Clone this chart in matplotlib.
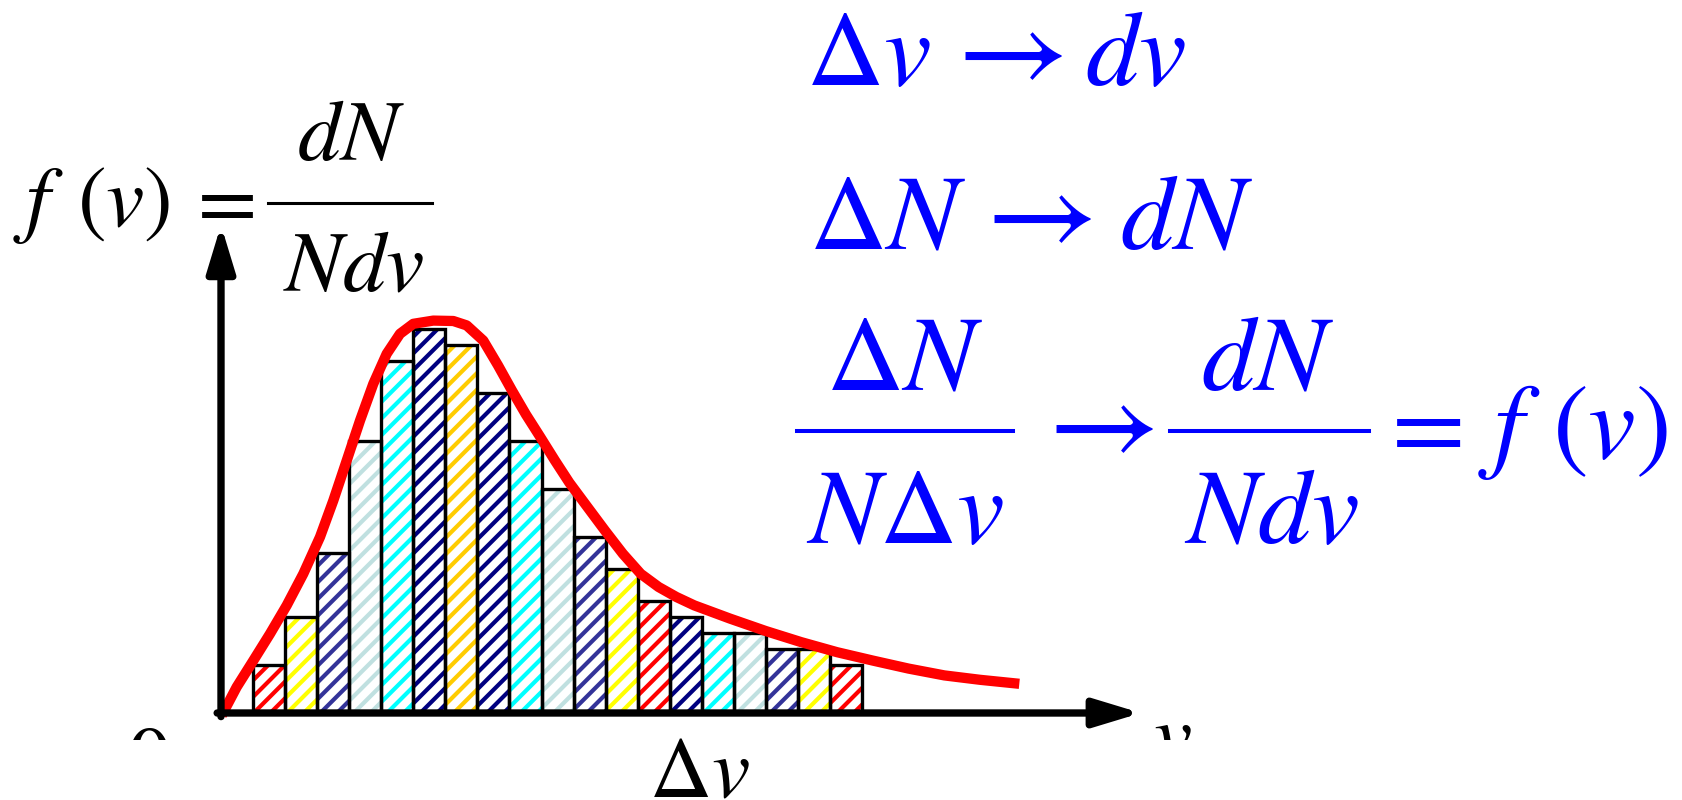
import matplotlib
matplotlib.use("Agg")
import matplotlib.pyplot as plt
from matplotlib.patches import Rectangle
from matplotlib.lines import Line2D

plt.rcParams['mathtext.fontset'] = 'stix'
plt.rcParams['font.family'] = ['STIXGeneral', 'DejaVu Serif']
plt.rcParams['hatch.linewidth'] = 3.0

# histogram of dN/(N dv): bins of width dv = 1, from v = 1 to v = 20
bin_left = list(range(1, 20))
bar_height = [0.121, 0.240, 0.401, 0.679, 0.879, 0.959, 0.921, 0.801, 0.679,
              0.559, 0.440, 0.359, 0.279, 0.240, 0.201, 0.201, 0.159, 0.159, 0.119]
bar_color = ['#ff0000', '#ffff00', '#333399', '#c0e0e0', '#00ffff', '#000080',
             '#ffcc00', '#000080', '#00ffff', '#c0e0e0', '#333399', '#ffff00',
             '#ff0000', '#000080', '#00ffff', '#c0e0e0', '#333399', '#ffff00',
             '#ff0000']

# smooth distribution f(v)
curve_v = [0.022, 0.490, 1.008, 1.529, 2.050, 2.568, 3.089, 3.504, 3.922, 4.337,
           4.752, 5.170, 5.585, 6.000, 6.624, 7.248, 7.666, 8.184, 8.643, 9.080,
           9.516, 9.953, 10.421, 10.867, 11.423, 11.981, 12.540, 13.095, 13.654,
           14.209, 14.768, 15.881, 16.995, 18.109, 19.223, 20.340, 21.454,
           22.568, 23.682, 24.908]
curve_f = [-0.006, 0.065, 0.131, 0.198, 0.269, 0.348, 0.440, 0.531, 0.631, 0.731,
           0.823, 0.898, 0.948, 0.973, 0.981, 0.980, 0.969, 0.931, 0.869, 0.806,
           0.746, 0.691, 0.631, 0.576, 0.516, 0.456, 0.398, 0.348, 0.315,
           0.290, 0.269, 0.236, 0.205, 0.177, 0.152, 0.131, 0.111,
           0.094, 0.083, 0.073]

V_END = 28.7
F_END = 1.22

W, H = 1682, 800
fig = plt.figure(figsize=(W / 100, H / 100), dpi=100)


def fx(x):
    return x / W


def fy(y):
    return 1 - y / H


ax = fig.add_axes([fx(221), 87 / H, 30 * 32.05 / W, 500 / H])
ax.set_xlim(0, 30)
ax.set_ylim(0, 1.25)
ax.axis('off')

# hatched bars: coloured stripes first, black outline on top
ax.bar(bin_left, bar_height, width=1, align='edge', color='white',
       edgecolor=bar_color, hatch='//', linewidth=0, zorder=2)
ax.bar(bin_left, bar_height, width=1, align='edge', fill=False,
       edgecolor='black', linewidth=2.4, zorder=3)

ax.plot(curve_v, curve_f, color='#ff0000', lw=7.4, solid_capstyle='butt',
        solid_joinstyle='round', zorder=4, clip_on=False)

# axes with arrow heads
arrow = dict(arrowstyle='-|>,head_length=2.8,head_width=0.85', lw=5.3,
             color='black', mutation_scale=10, shrinkA=0, shrinkB=0)
ax.annotate('', xy=(V_END, 0), xytext=(-0.12, 0), arrowprops=arrow,
            annotation_clip=False, zorder=5)
ax.annotate('', xy=(0, F_END), xytext=(0, -0.009), arrowprops=arrow,
            annotation_clip=False, zorder=5)


def put(x, y, s, size, color='black', ha='left', zorder=3):
    fig.text(fx(x), fy(y), s, fontsize=size, color=color, ha=ha,
             va='baseline', zorder=zorder)


def fraction(num, den, xc_num, xc_den, y_num, y_bar, y_den, x0, x1,
             size, color, bar_lw):
    put(xc_num, y_num, num, size, color, ha='center')
    put(xc_den, y_den, den, size, color, ha='center')
    fig.add_artist(Line2D([fx(x0), fx(x1)], [fy(y_bar), fy(y_bar)],
                          transform=fig.transFigure, color=color, lw=bar_lw))


# definition of f(v)
put(13, 226, r'$f$', 62)
put(77, 226, r'$(v)$', 62)
put(185, 226, r'$=$', 62)
fraction(r'$dN$', r'$Ndv$', 351, 353, 160, 203, 290, 268, 432,
         62, 'black', 2.2)

# limits
blue = '#0000ff'
put(806, 85, r'$\Delta v$', 77, blue)
put(1001, 85, r'$\rightarrow$', 88, blue, ha='center')
put(1085, 85, r'$dv$', 77, blue)

put(809, 248, r'$\Delta N$', 77, blue)
put(1030, 248, r'$\rightarrow$', 88, blue, ha='center')
put(1120, 248, r'$dN$', 77, blue)

fraction(r'$\Delta N$', r'$N\Delta v$', 905, 905, 389, 431, 543, 797, 1013,
         77, blue, 2.9)
put(1092, 458, r'$\rightarrow$', 88, blue, ha='center')
fraction(r'$dN$', r'$Ndv$', 1268, 1271, 389, 431, 543, 1170, 1369,
         77, blue, 2.9)
put(1376, 458, r'$=$', 77, blue)
put(1478, 458, r'$f$', 77, blue)
put(1552, 458, r'$(v)$', 77, blue)

# axis labels, lower part hidden by a white strip
put(127, 787, r'$0$', 62)
put(1153, 763, r'$v$', 62)
fig.patches.append(Rectangle((0, 0), 1, 60 / H, transform=fig.transFigure,
                             facecolor='white', edgecolor='none', zorder=4))
put(649, 796, r'$\Delta v$', 62, zorder=5)

fig.savefig('out.png', dpi=100)
